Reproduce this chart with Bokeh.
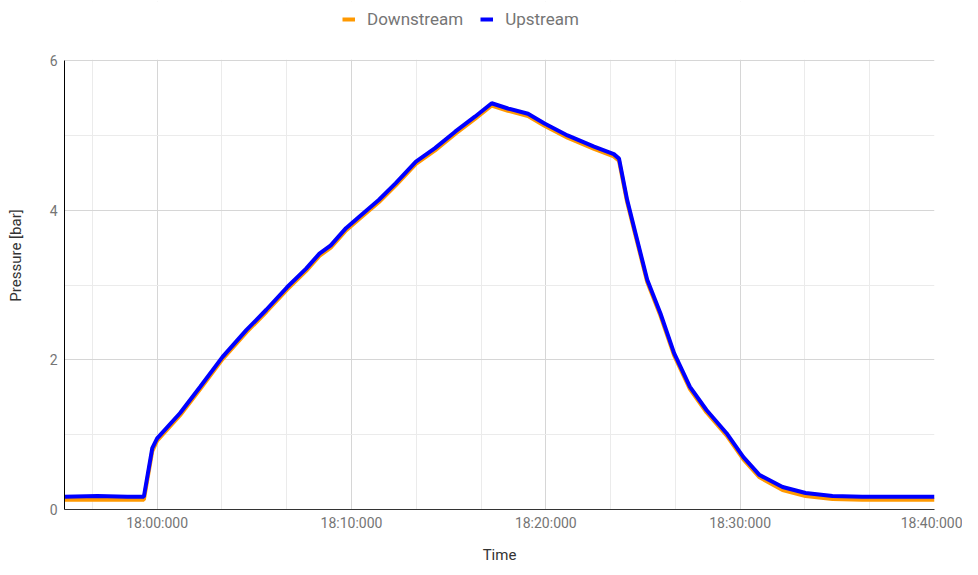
import pandas as pd
from bokeh.plotting import figure
from bokeh.models import Range1d, FixedTicker, Legend
from bokeh.embed import file_html
from bokeh.resources import INLINE

# ---- data ----
times = ["17:55:14", "17:56:56", "17:58:28", "17:59:19", "17:59:45", "18:00:00",
         "18:01:11", "18:02:13", "18:03:22", "18:04:36", "18:05:37", "18:06:41",
         "18:07:40", "18:08:21", "18:08:56", "18:09:43", "18:10:23", "18:11:25",
         "18:12:16", "18:13:19", "18:14:18", "18:15:20", "18:16:21", "18:17:13",
         "18:18:03", "18:19:05", "18:19:56", "18:21:07", "18:22:29", "18:23:30",
         "18:23:46", "18:24:11", "18:24:37", "18:25:13", "18:25:54", "18:26:36",
         "18:27:25", "18:28:16", "18:29:18", "18:30:10", "18:31:00", "18:32:11",
         "18:33:22", "18:34:45", "18:36:17", "18:37:49", "18:40:00"]

upstream = [0.17, 0.18, 0.17, 0.17, 0.82, 0.95,
            1.29, 1.64, 2.04, 2.40, 2.67, 2.97,
            3.22, 3.42, 3.53, 3.76, 3.91, 4.14,
            4.36, 4.65, 4.83, 5.05, 5.25, 5.43,
            5.36, 5.29, 5.16, 5.00, 4.85, 4.75,
            4.69, 4.14, 3.69, 3.07, 2.62, 2.09,
            1.64, 1.33, 1.02, 0.70, 0.46, 0.30,
            0.22, 0.18, 0.17, 0.17, 0.17]

downstream = [0.13, 0.13, 0.13, 0.13, 0.78, 0.92,
              1.26, 1.61, 2.01, 2.37, 2.64, 2.94,
              3.19, 3.39, 3.50, 3.73, 3.88, 4.11,
              4.33, 4.62, 4.80, 5.02, 5.22, 5.40,
              5.33, 5.26, 5.13, 4.97, 4.82, 4.72,
              4.66, 4.11, 3.66, 3.04, 2.59, 2.06,
              1.61, 1.30, 0.99, 0.67, 0.43, 0.26,
              0.18, 0.14, 0.13, 0.13, 0.13]

x_tick_times = ["18:00:00", "18:10:00", "18:20:00", "18:30:00", "18:40:00"]
x_tick_labels = ["18:00:000", "18:10:000", "18:20:000", "18:30:000", "18:40:000"]
x_grid_times = ["17:56:40", "18:00:00", "18:03:20", "18:06:40", "18:10:00",
                "18:13:20", "18:16:40", "18:20:00", "18:23:20", "18:26:40",
                "18:30:00", "18:33:20", "18:36:40", "18:40:00"]
x_start, x_end = "17:55:14", "18:40:00"
y_min, y_max = 0, 6
y_ticks = [0, 2, 4, 6]
y_minor_ticks = [1, 3, 5]
series_names = ["Downstream", "Upstream"]

# headroom above the 0..6 axis that holds the legend (layout only)
LEGEND_HEADROOM = 0.79

DAY = "2021-01-01 "
EPOCH = pd.Timestamp("1970-01-01")


def to_dt(s):
    return pd.Timestamp(DAY + s)


def to_ms(s):
    return float((to_dt(s) - EPOCH) / pd.Timedelta(milliseconds=1))


xs = [to_dt(t) for t in times]
x0, x1 = to_ms(x_start), to_ms(x_end)
y_top = y_max + LEGEND_HEADROOM

p = figure(width=962, height=566, x_axis_type="datetime",
           output_backend="svg", toolbar_location=None,
           x_range=Range1d(x0, x1),
           y_range=Range1d(y_min, y_top),
           min_border_left=64, min_border_right=28,
           min_border_top=1, min_border_bottom=57)
p.outline_line_color = None
p.background_fill_color = "white"
p.border_fill_color = "white"

# white band above the value axis: hides grid lines in the legend area
p.quad(left=[x0 - 60000], right=[x1 + 60000], bottom=[y_max + 0.01], top=[y_top + 0.1],
       fill_color="white", line_color=None)

r_down = p.line(xs, downstream, line_color="#ff9900", line_width=4)
r_up = p.line(xs, upstream, line_color="#0000ff", line_width=4)

# axes
major_ms = [to_ms(t) for t in x_tick_times]
p.xaxis.ticker = FixedTicker(ticks=major_ms, minor_ticks=[to_ms(t) for t in x_grid_times])
p.xaxis.major_label_overrides = {m: lab for m, lab in zip(major_ms, x_tick_labels)}
p.yaxis.ticker = FixedTicker(ticks=y_ticks, minor_ticks=y_minor_ticks)
p.yaxis.bounds = (y_min, y_max)

for ax in (p.xaxis, p.yaxis):
    ax.major_tick_line_color = None
    ax.minor_tick_line_color = None
    ax.major_tick_out = 0
    ax.major_tick_in = 0
    ax.minor_tick_out = 0
    ax.minor_tick_in = 0
    ax.major_label_text_font = "Roboto"
    ax.major_label_text_font_size = "14px"
    ax.major_label_text_color = "#757575"
    ax.axis_label_text_font = "Roboto"
    ax.axis_label_text_font_size = "15px"
    ax.axis_label_text_font_style = "normal"
    ax.axis_label_text_color = "#333333"

p.xaxis.axis_line_color = "#333333"
p.yaxis.axis_line_color = "#000000"
p.xaxis.axis_label = "Time"
p.yaxis.axis_label = "Pressure [bar]"
p.xaxis.major_label_standoff = 5
p.xaxis.axis_label_standoff = 12
p.yaxis.major_label_standoff = 7
p.yaxis.axis_label_standoff = 22

p.xgrid.grid_line_color = "#d6d6d6"
p.xgrid.minor_grid_line_color = "#ebebeb"
p.ygrid.grid_line_color = "#d6d6d6"
p.ygrid.minor_grid_line_color = "#ebebeb"

legend = Legend(items=[(series_names[0], [r_down]), (series_names[1], [r_up])],
                orientation="horizontal", location=(278, 480),
                border_line_color=None, background_fill_alpha=0,
                padding=0, margin=0, spacing=17, label_standoff=12,
                glyph_width=13, glyph_height=20,
                label_text_font="Roboto", label_text_font_size="17px",
                label_text_color="#757575")
p.add_layout(legend, "center")

open("out.html", "w").write(file_html(p, INLINE))
